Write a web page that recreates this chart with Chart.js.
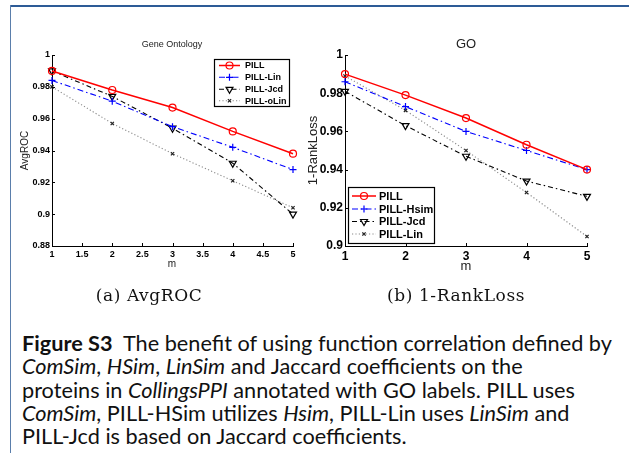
<!DOCTYPE html>
<html>
<head>
<meta charset="utf-8">
<script src="https://cdn.jsdelivr.net/npm/chart.js@4.4.1/dist/chart.umd.min.js"></script>
<style>
  html, body { margin: 0; padding: 0; background: #fff; }
  #page { position: relative; width: 629px; height: 453px; overflow: hidden; background: #fff; }
  #topline { position: absolute; left: 10px; top: 5px; width: 619px; height: 2px; background: #2d5b96; }
  #leftline { position: absolute; left: 10px; top: 5px; width: 1px; height: 448px; background: #5a7eab; }
  .cv { position: absolute; top: 0; }
  .sub { position: absolute; top: 285px; font-family: "DejaVu Serif", "Liberation Serif", serif; font-size: 17px; letter-spacing: 0.6px; color: #111; white-space: nowrap; transform: translateX(-50%); }
  #caption { position: absolute; left: 22px; top: 332px; font-family: "Lato", "Open Sans", sans-serif; color: #111; }
  #caption div { white-space: nowrap; height: 23.3px; line-height: 23.3px; }
</style>
</head>
<body>
<div id="page">
  <div id="topline"></div>
  <div id="leftline"></div>
  <div class="cv" style="left:0px;width:310px;height:290px;"><canvas id="c1" width="310" height="290"></canvas></div>
  <div class="cv" style="left:300px;width:329px;height:290px;"><canvas id="c2" width="329" height="290"></canvas></div>
  <div class="sub" style="left:149px;">(a) AvgROC</div>
  <div class="sub" style="left:456px;">(b) 1-RankLoss</div>
  <div id="caption">
    <div id="l1"><b>Figure S3</b>&nbsp; The benefit of using function correlation defined by</div>
    <div><i>ComSim</i>, <i>HSim</i>, <i>LinSim</i> and Jaccard coefficients on the</div>
    <div>proteins in <i>CollingsPPI</i> annotated with GO labels. PILL uses</div>
    <div><i>ComSim</i>, PILL-HSim utilizes <i>Hsim</i>, PILL-Lin uses <i>LinSim</i> and</div>
    <div>PILL-Jcd is based on Jaccard coefficients.</div>
  </div>
</div>
<script>
// ---------- DATA ----------
const mValues = [1, 2, 3, 4, 5];

// (a) AvgROC — "Gene Ontology"
const avgrocLabels = ["PILL", "PILL-Lin", "PILL-Jcd", "PILL-oLin"];
const avgrocPILL  = [0.990, 0.978, 0.967, 0.952, 0.938];
const avgrocLin   = [0.984, 0.971, 0.955, 0.942, 0.928];
const avgrocJcd   = [0.990, 0.974, 0.954, 0.932, 0.900];
const avgrocOLin  = [0.980, 0.957, 0.938, 0.921, 0.904];
const avgrocYTicks = [0.88, 0.90, 0.92, 0.94, 0.96, 0.98, 1];
const avgrocXTicks = [1, 1.5, 2, 2.5, 3, 3.5, 4, 4.5, 5];

// (b) 1-RankLoss — "GO"
const rankLabels = ["PILL", "PILL-Hsim", "PILL-Jcd", "PILL-Lin"];
const rankPILL = [0.990, 0.979, 0.967, 0.953, 0.940];
const rankHsim = [0.986, 0.973, 0.960, 0.950, 0.940];
const rankJcd  = [0.981, 0.963, 0.947, 0.934, 0.926];
const rankLin  = [0.989, 0.971, 0.950, 0.928, 0.905];
const rankYTicks = [0.90, 0.92, 0.94, 0.96, 0.98, 1];
const rankXTicks = [1, 2, 3, 4, 5];

// ---------- STYLES ----------
const styles = [
  { color: '#ff0000', dash: [], width: 1.5, point: 'circle', rot: 0, radius: 3.5, pborder: '#ff0000' },
  { color: '#0000ff', dash: [6, 3, 1.5, 3], width: 1.1, point: 'cross', rot: 0, radius: 3.5, pborder: '#0000ff' },
  { color: '#000000', dash: [5, 3, 1.5, 3], width: 1.1, point: 'triangle', rot: 180, radius: 4, pborder: '#000000' },
  { color: '#8a8a8a', dash: [1.2, 2.2], width: 1.1, point: 'crossRot', rot: 0, radius: 2.3, pborder: '#222222' }
];

function makeDatasets(labels, series) {
  return series.map((vals, i) => {
    const s = styles[i];
    return {
      label: labels[i],
      data: mValues.map((m, k) => ({ x: m, y: vals[k] })),
      borderColor: s.color,
      borderWidth: s.width,
      borderDash: s.dash,
      pointStyle: s.point,
      rotation: s.rot,
      pointRadius: s.radius,
      pointBorderColor: s.pborder,
      pointBackgroundColor: 'rgba(0,0,0,0)',
      pointBorderWidth: 1.2,
      tension: 0,
      fill: false,
      clip: false
    };
  });
}

function fmt(v) { return String(+v.toFixed(2)); }

// inward tick marks + titles + legend
const decorPlugin = {
  id: 'decor',
  afterDraw(chart, args, opts) {
    const ctx = chart.ctx;
    const ca = chart.chartArea;
    const xs = chart.scales.x, ys = chart.scales.y;
    ctx.save();
    ctx.strokeStyle = '#000';
    ctx.lineWidth = 1;
    ctx.setLineDash([]);
    xs.ticks.forEach(t => {
      const px = Math.round(xs.getPixelForValue(t.value)) + 0.5;
      ctx.beginPath(); ctx.moveTo(px, ca.bottom); ctx.lineTo(px, ca.bottom - 3); ctx.stroke();
    });
    ys.ticks.forEach(t => {
      const py = Math.round(ys.getPixelForValue(t.value)) + 0.5;
      ctx.beginPath(); ctx.moveTo(ca.left, py); ctx.lineTo(ca.left + 3, py); ctx.stroke();
    });
    // titles
    ctx.fillStyle = '#222';
    ctx.textAlign = 'center';
    ctx.textBaseline = 'middle';
    ctx.font = opts.titleFont;
    ctx.fillText(opts.title, opts.titleX, opts.titleY);
    ctx.font = opts.axisFont;
    ctx.fillText('m', opts.mX, opts.mY);
    ctx.save();
    ctx.translate(opts.yLabelX, (ca.top + ca.bottom) / 2);
    ctx.rotate(-Math.PI / 2);
    ctx.fillText(opts.yLabel, 0, 0);
    ctx.restore();
    // legend
    const L = opts.legend;
    ctx.fillStyle = '#fff';
    ctx.fillRect(L.x, L.y, L.w, L.h);
    ctx.strokeStyle = '#000';
    ctx.lineWidth = 1.2;
    ctx.strokeRect(L.x + 0.5, L.y + 0.5, L.w, L.h);
    ctx.font = L.font;
    ctx.textAlign = 'left';
    ctx.textBaseline = 'middle';
    chart.data.datasets.forEach((ds, i) => {
      const y = L.rows[i];
      ctx.save();
      ctx.strokeStyle = ds.borderColor;
      ctx.lineWidth = ds.borderWidth;
      ctx.setLineDash(ds.borderDash);
      ctx.beginPath(); ctx.moveTo(L.x1, y); ctx.lineTo(L.x2, y); ctx.stroke();
      ctx.setLineDash([]);
      ctx.strokeStyle = ds.pointBorderColor;
      ctx.fillStyle = ds.pointBackgroundColor;
      ctx.lineWidth = ds.pointBorderWidth;
      Chart.helpers.drawPoint(ctx, { pointStyle: ds.pointStyle, rotation: ds.rotation, radius: ds.pointRadius, borderWidth: ds.pointBorderWidth }, (L.x1 + L.x2) / 2, y);
      ctx.restore();
      ctx.fillStyle = '#000';
      ctx.fillText(ds.label, L.tx, y + 0.5);
    });
    ctx.restore();
  }
};

function makeChart(id, datasets, cfg) {
  return new Chart(document.getElementById(id), {
    type: 'line',
    data: { datasets },
    plugins: [decorPlugin],
    options: {
      responsive: false,
      animation: false,
      events: [],
      layout: { padding: cfg.padding },
      plugins: { legend: { display: false }, tooltip: { enabled: false }, title: { display: false }, decor: cfg.decor },
      scales: {
        x: {
          type: 'linear', min: cfg.xTicks[0], max: cfg.xTicks[cfg.xTicks.length - 1],
          afterBuildTicks: s => { s.ticks = cfg.xTicks.map(v => ({ value: v })); },
          afterFit: s => { s.height = cfg.xH; },
          grid: { display: true, drawOnChartArea: false, drawTicks: false },
          border: { display: true, color: '#000', width: 1 },
          ticks: { color: '#000', font: cfg.tickFont, padding: cfg.xPad, maxRotation: 0, autoSkip: false, callback: v => fmt(v) }
        },
        y: {
          type: 'linear', min: cfg.yTicks[0], max: cfg.yTicks[cfg.yTicks.length - 1],
          afterBuildTicks: s => { s.ticks = cfg.yTicks.map(v => ({ value: v })); },
          afterFit: s => { s.width = cfg.yW; },
          grid: { display: true, drawOnChartArea: false, drawTicks: false },
          border: { display: true, color: '#000', width: 1 },
          ticks: { color: '#000', font: cfg.tickFont, padding: 2, autoSkip: false, callback: v => fmt(v) }
        }
      }
    }
  });
}

makeChart('c1', makeDatasets(avgrocLabels, [avgrocPILL, avgrocLin, avgrocJcd, avgrocOLin]), {
  padding: { left: 0, top: 55, right: 17, bottom: 24 },
  xH: 20, yW: 52, xPad: 3,
  xTicks: avgrocXTicks, yTicks: avgrocYTicks,
  tickFont: { family: 'Liberation Sans', size: 9, weight: 'bold' },
  decor: {
    title: 'Gene Ontology', titleFont: '9px "Liberation Sans"', titleX: 172, titleY: 45,
    axisFont: '10px "Liberation Sans"', mX: 172, mY: 264, yLabel: 'AvgROC', yLabelX: 25,
    legend: { x: 214, y: 59, w: 75, h: 47, x1: 219, x2: 240, tx: 245, rows: [65.5, 77.3, 89.3, 100.7],
              font: 'bold 9px "Liberation Sans"' }
  }
});

makeChart('c2', makeDatasets(rankLabels, [rankPILL, rankHsim, rankJcd, rankLin]), {
  padding: { left: 0, top: 55, right: 42, bottom: 24 },
  xH: 20, yW: 45, xPad: 3,
  xTicks: rankXTicks, yTicks: rankYTicks,
  tickFont: { family: 'Liberation Sans', size: 12, weight: 'bold' },
  decor: {
    title: 'GO', titleFont: '13px "Liberation Sans"', titleX: 166, titleY: 44,
    axisFont: '13px "Liberation Sans"', mX: 166, mY: 266, yLabel: '1-RankLoss', yLabelX: 13,
    legend: { x: 48, y: 187, w: 86, h: 56, x1: 52, x2: 76, tx: 79, rows: [196, 209, 221.5, 234],
              font: 'bold 11px "Liberation Sans"' }
  }
});

// fit caption font size so the first line matches the reference width
(function () {
  const cap = document.getElementById('caption');
  const l1 = document.getElementById('l1');
  let size = 17;
  cap.style.fontSize = size + 'px';
  const span = document.createElement('span');
  span.innerHTML = l1.innerHTML;
  span.style.whiteSpace = 'nowrap';
  l1.innerHTML = '';
  l1.appendChild(span);
  const w = span.getBoundingClientRect().width;
  size = size * 590 / w;
  cap.style.fontSize = size.toFixed(2) + 'px';
})();
</script>
</body>
</html>
